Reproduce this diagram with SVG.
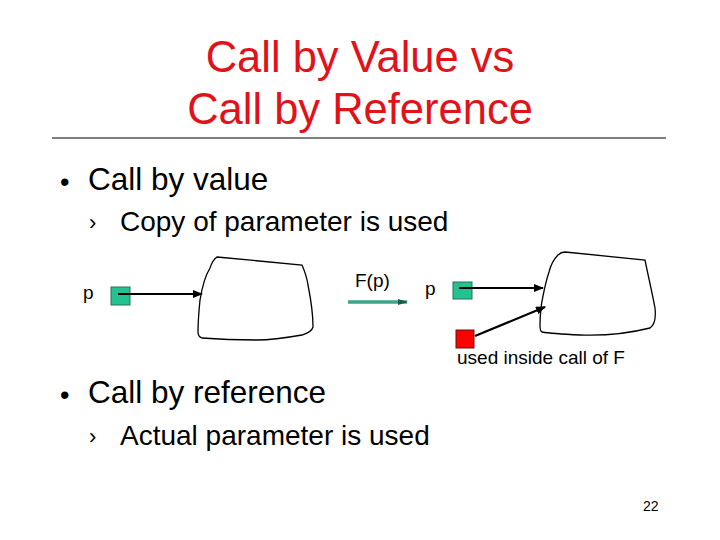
<svg xmlns="http://www.w3.org/2000/svg" width="720" height="540" viewBox="0 0 720 540">
<style>
text{font-family:"Liberation Sans",Arial,sans-serif;fill:#000}
.title{font-size:43.5px;fill:#e2121a;text-anchor:middle}
.l1{font-size:31.5px}
.l2{font-size:28px}
.bul{font-size:27px}
.chev{font-size:22px}
.lbl{font-size:19px}
.blob{fill:none;stroke:#000;stroke-width:1.3}
.gsq{fill:#22c293;stroke:#2a6e58;stroke-width:1}
.rsq{fill:#ff0000;stroke:#6a1010;stroke-width:1}
.conn{stroke:#000;stroke-width:2.2;fill:none;marker-end:url(#ah)}
</style>
<defs>
<marker id="ah" markerWidth="10" markerHeight="8" refX="9" refY="4" orient="auto" markerUnits="userSpaceOnUse">
<path d="M0,0 L10,4 L0,8 Z" fill="#000"/>
</marker>
<marker id="ahg" markerWidth="10" markerHeight="6" refX="9" refY="3" orient="auto" markerUnits="userSpaceOnUse">
<path d="M0,0 L10,3 L0,6 Z" fill="#1d5a48"/>
</marker>
</defs>
<rect width="720" height="540" fill="#fff"/>
<g id="title">
<text class="title" x="360" y="72">Call by Value vs</text>
<text class="title" x="360" y="124">Call by Reference</text>
<line x1="52" y1="138" x2="666" y2="138" stroke="#000" stroke-width="1.2"/>
</g>
<g id="bullets">
<text class="bul" x="60" y="191">•</text>
<text class="l1" x="88" y="190">Call by value</text>
<text class="chev" x="89" y="230">›</text>
<text class="l2" x="120" y="231">Copy of parameter is used</text>
<text class="bul" x="60" y="404">•</text>
<text class="l1" x="88" y="403">Call by reference</text>
<text class="chev" x="89" y="444">›</text>
<text class="l2" x="120" y="445">Actual parameter is used</text>
<text x="643" y="511" font-size="14">22</text>
</g>
<g id="left-p">
<text class="lbl" x="83" y="299">p</text>
<rect class="gsq" x="111" y="287" width="19" height="18"/>
</g>
<g id="left-blob">
<path class="blob" d="M217,257 L302,265 C305,272 307,278 308,285 C311,300 313,315 313,327 C312,331 309,333 302,335 C285,338 270,340 257,340 C235,340 215,339 202,338 C199,337 198,335 198,332 C198,320 199,310 200,300 C202,288 205,276 210,268 C212,262 214,259 217,257 Z"/>
</g>
<g id="call-arrow">
<line x1="348" y1="302" x2="407" y2="302" stroke="#3aa58a" stroke-width="3.5" marker-end="url(#ahg)"/>
<text class="lbl" x="355" y="287" font-size="18">F(p)</text>
</g>
<g id="right-p">
<text class="lbl" x="425" y="295">p</text>
<rect class="gsq" x="453" y="282" width="19" height="17"/>
</g>
<g id="red-copy">
<rect class="rsq" x="456" y="330" width="18" height="18"/>
<text class="lbl" x="457" y="364">used inside call of F</text>
</g>
<g id="right-blob">
<path class="blob" d="M565,252 L645,260 C648,275 652,292 655,308 C656,318 655,325 650,328 C630,333 605,336 580,335 C560,334 548,333 542,332 C540,331 540,329 540,326 C540,315 541,305 543,296 C545,286 547,278 549,272 C551,264 555,258 558,255 C560,253 562,252 565,252 Z"/>
</g>
<g id="connectors">
<line class="conn" x1="118" y1="294" x2="202" y2="294"/>
<line class="conn" x1="459" y1="288" x2="543" y2="288"/>
<line class="conn" x1="475" y1="336" x2="545" y2="307"/>
</g>
</svg>
